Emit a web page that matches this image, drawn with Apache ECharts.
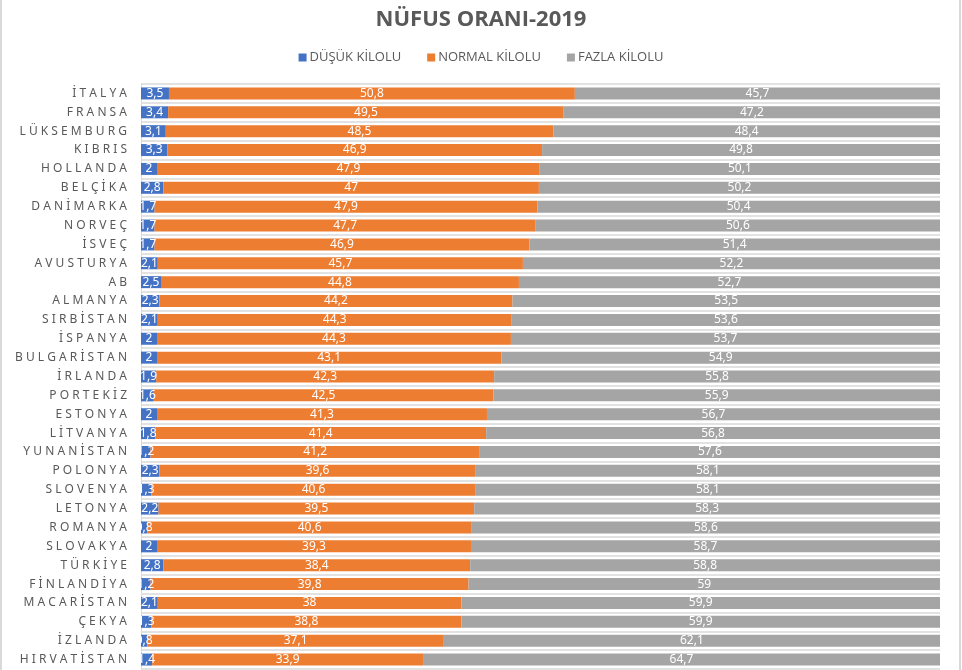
<!DOCTYPE html>
<html>
<head>
<meta charset="utf-8">
<script src="https://cdn.jsdelivr.net/npm/echarts@6/dist/echarts.min.js"></script>
<style>
html,body{margin:0;padding:0;background:#fff;}
#chart{width:962px;height:670px;}
</style>
</head>
<body>
<div id="chart"></div>
<script>
const categories = ["İTALYA","FRANSA","LÜKSEMBURG","KIBRIS","HOLLANDA","BELÇİKA","DANİMARKA","NORVEÇ","İSVEÇ","AVUSTURYA","AB","ALMANYA","SIRBİSTAN","İSPANYA","BULGARİSTAN","İRLANDA","PORTEKİZ","ESTONYA","LİTVANYA","YUNANİSTAN","POLONYA","SLOVENYA","LETONYA","ROMANYA","SLOVAKYA","TÜRKİYE","FİNLANDİYA","MACARİSTAN","ÇEKYA","İZLANDA","HIRVATİSTAN"];
const dusuk  = [3.5,3.4,3.1,3.3,2,2.8,1.7,1.7,1.7,2.1,2.5,2.3,2.1,2,2,1.9,1.6,2,1.8,1.2,2.3,1.3,2.2,0.8,2,2.8,1.2,2.1,1.3,0.8,1.4];
const normal = [50.8,49.5,48.5,46.9,47.9,47,47.9,47.7,46.9,45.7,44.8,44.2,44.3,44.3,43.1,42.3,42.5,41.3,41.4,41.2,39.6,40.6,39.5,40.6,39.3,38.4,39.8,38,38.8,37.1,33.9];
const fazla  = [45.7,47.2,48.4,49.8,50.1,50.2,50.4,50.6,51.4,52.2,52.7,53.5,53.6,53.7,54.9,55.8,55.9,56.7,56.8,57.6,58.1,58.1,58.3,58.6,58.7,58.8,59,59.9,59.9,62.1,64.7];
const seriesNames = ["DÜŞÜK KİLOLU","NORMAL KİLOLU","FAZLA KİLOLU"];
const colors = ["#4472C4","#ED7D31","#A5A5A5"];

const chart = echarts.init(document.getElementById('chart'));
const labelCfg = {
  show: true,
  position: 'inside',
  color: '#ffffff',
  fontSize: 12,
  fontFamily: 'Noto Sans',
  formatter: p => String(p.value).replace('.', ',')
};
function mk(name, data, color) {
  return {
    name: name, type: 'bar', stack: 'total', data: data,
    barWidth: 12,
    itemStyle: { color: color },
    label: labelCfg,
    emphasis: { disabled: true }
  };
}
chart.setOption({
  animation: false,
  color: colors,
  title: {
    text: 'NÜFUS ORANI-2019',
    left: 'center', top: 4,
    textStyle: { color: '#595959', fontSize: 22, fontWeight: 'bold', fontFamily: 'Open Sans' }
  },
  legend: {
    top: 46, left: 'center',
    icon: 'rect', itemWidth: 8, itemHeight: 8, itemGap: 26,
    textStyle: { color: '#595959', fontSize: 13, fontFamily: 'Open Sans', padding: [0,0,0,-2] },
    data: seriesNames
  },
  grid: { left: 141, right: 22, top: 84, bottom: 1, containLabel: false },
  xAxis: {
    type: 'value', min: 0, max: 100, show: false
  },
  yAxis: {
    type: 'category', data: categories, inverse: true,
    axisLine: { show: true, lineStyle: { color: '#d9d9d9', width: 1 } },
    axisTick: { show: false },
    splitLine: { show: true, lineStyle: { color: '#e2e2e2', width: 2 } },
    axisLabel: {
      color: '#595959', fontSize: 12, fontFamily: 'Noto Sans', margin: 14,
      formatter: v => Array.from(v).join(' ')
    }
  },
  graphic: [
    { type: 'rect', left: 0, top: 0, shape: { width: 2, height: 670 }, style: { fill: '#d9d9d9' } },
    { type: 'rect', left: 959, top: 0, shape: { width: 2, height: 670 }, style: { fill: '#d9d9d9' } }
  ],
  series: [
    mk(seriesNames[0], dusuk, colors[0]),
    mk(seriesNames[1], normal, colors[1]),
    mk(seriesNames[2], fazla, colors[2])
  ]
});
</script>
</body>
</html>
